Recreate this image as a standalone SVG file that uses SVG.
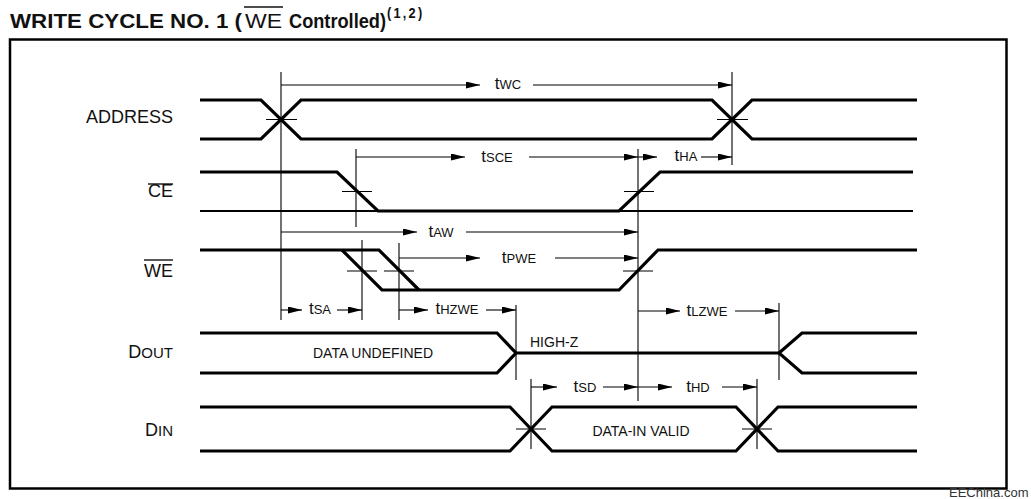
<svg xmlns="http://www.w3.org/2000/svg" width="1031" height="499" viewBox="0 0 1031 499">
<style>
text{font-family:"Liberation Sans",Arial,sans-serif;fill:#111}
.sig{fill:none;stroke:#000;stroke-width:3.2}
.ref{fill:none;stroke:#000;stroke-width:1.8}
.thin{fill:none;stroke:#000;stroke-width:1.1}
.dim{fill:none;stroke:#000;stroke-width:1.1}
.lbl{font-size:18px;text-anchor:end}
.tl{font-size:17px;text-anchor:middle}
.s{font-size:13px}
.dt{font-size:14px}
</style>
<defs>
<marker id="ah" viewBox="0 0 14 7" refX="14" refY="3.5" markerWidth="14" markerHeight="7" orient="auto-start-reverse" markerUnits="userSpaceOnUse">
<path d="M0,0 L14,3.5 L0,7 z" fill="#000"/>
</marker>
</defs>
<rect width="1031" height="499" fill="#fff"/>
<g id="title">
<text x="10" y="28" font-size="20" font-weight="bold" textLength="232" lengthAdjust="spacingAndGlyphs">WRITE CYCLE NO. 1 (</text>
<text x="245" y="28" font-size="20" textLength="37" lengthAdjust="spacingAndGlyphs">WE</text>
<line x1="244" y1="7" x2="283" y2="7" stroke="#111" stroke-width="1.5"/>
<text transform="translate(289,28) scale(0.91,1)" font-size="20" font-weight="bold">Controlled)<tspan font-size="14" dx="1" dy="-10" letter-spacing="2.5">(1,2)</tspan></text>
</g>
<rect id="frame" x="10" y="39.5" width="996.5" height="449" fill="none" stroke="#000" stroke-width="2.5"/>
<g id="address">
<text class="lbl" x="173" y="123">ADDRESS</text>
<path class="sig" d="M200,100 H261 L301,139 H712 L752,100 H917"/>
<path class="sig" d="M200,139 H261 L301,100 H712 L752,139 H917"/>
</g>
<g id="ce">
<text class="lbl" x="173" y="197">CE</text>
<line x1="148" y1="184" x2="173" y2="184" stroke="#111" stroke-width="1.4"/>
<path class="sig" d="M200,172 H337 L378,211 H619 L660,172 H913"/>
<path class="ref" d="M200,211 H378 M619,211 H913"/>
</g>
<g id="we">
<text class="lbl" x="173" y="277">WE</text>
<line x1="144" y1="260" x2="173" y2="260" stroke="#111" stroke-width="1.4"/>
<path class="sig" d="M200,250 H379 L419,290"/>
<path class="sig" d="M342,250 L382,290 H619 L658,250 H917"/>
</g>
<g id="dout">
<text class="lbl" x="173" y="358">D<tspan font-size="15">OUT</tspan></text>
<path class="sig" d="M200,333 H497 L516,353 L497,373 H200"/>
<path class="sig" d="M516,353 H779"/>
<path class="sig" d="M917,333 H802 L779,353 L802,373 H917"/>
<text class="dt" x="373" y="358" text-anchor="middle">DATA UNDEFINED</text>
<text class="dt" x="530" y="347">HIGH-Z</text>
</g>
<g id="din">
<text class="lbl" x="173" y="436">D<tspan font-size="15">IN</tspan></text>
<path class="sig" d="M200,407 H510 L552,451 H736 L778,407 H917"/>
<path class="sig" d="M200,451 H510 L552,407 H736 L778,451 H917"/>
<text class="dt" x="641" y="436" text-anchor="middle">DATA-IN VALID</text>
</g>
<g id="connectors">
<path class="thin" d="M281,72 V320 M732,72 V165 M356,149 V227 M362,240 V320 M399,243 V320 M638,149 V401 M516,305 V380 M779,303 V380 M531,379 V449 M757,379 V449"/>
<path class="thin" d="M266,119.5 H297 M717,119.5 H748 M342,191.5 H372 M624,191.5 H654 M347,271 H377 M384,271 H414 M623,271 H653 M516,429 H546 M742,429 H772"/>
<g class="dim" marker-start="url(#ah)">
<path d="M480,85 H281"/>
<path d="M465,157 H356"/>
<path d="M657,157 H638"/>
<path d="M417,232 H281"/>
<path d="M480,258 H399"/>
<path d="M302,310 H281"/>
<path d="M428,310 H399"/>
<path d="M680,311 H638"/>
<path d="M557,387 H531"/>
<path d="M672,387 H638"/>
</g>
<g class="dim" marker-end="url(#ah)">
<path d="M533,85 H732"/>
<path d="M529,157 H638"/>
<path d="M701,157 H732"/>
<path d="M466,232 H638"/>
<path d="M555,258 H638"/>
<path d="M337,310 H362"/>
<path d="M486,310 H516"/>
<path d="M735,311 H779"/>
<path d="M603,387 H638"/>
<path d="M722,387 H757"/>
</g>
<text class="tl" x="508" y="89">t<tspan class="s">WC</tspan></text>
<text class="tl" x="497" y="162">t<tspan class="s">SCE</tspan></text>
<text class="tl" x="686" y="161">t<tspan class="s">HA</tspan></text>
<text class="tl" x="441" y="237">t<tspan class="s">AW</tspan></text>
<text class="tl" x="519" y="263">t<tspan class="s">PWE</tspan></text>
<text class="tl" x="320" y="314">t<tspan class="s">SA</tspan></text>
<text class="tl" x="457" y="314">t<tspan class="s">HZWE</tspan></text>
<text class="tl" x="707" y="316">t<tspan class="s">LZWE</tspan></text>
<text class="tl" x="585" y="392">t<tspan class="s">SD</tspan></text>
<text class="tl" x="698" y="392">t<tspan class="s">HD</tspan></text>
</g>
<text x="949" y="497" font-size="13" style="fill:#333">EEChina.com</text>
</svg>
